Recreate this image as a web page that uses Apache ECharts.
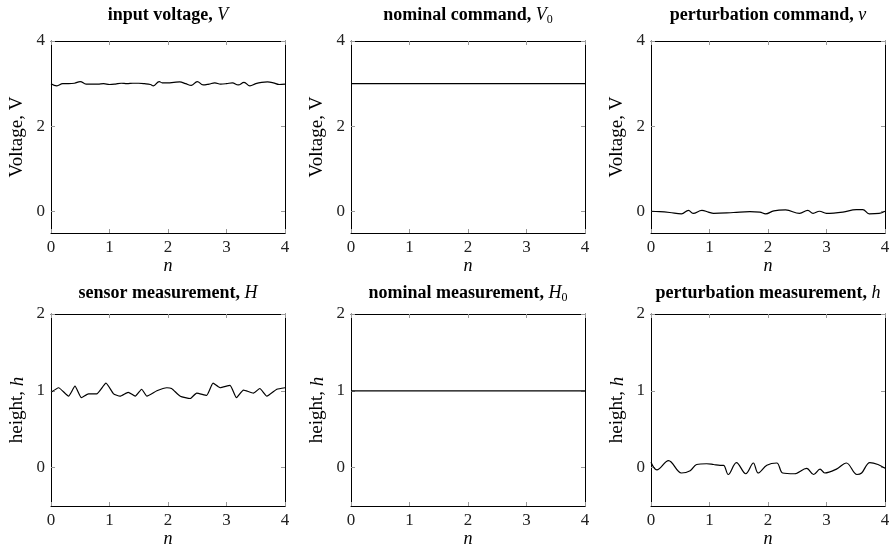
<!DOCTYPE html>
<html lang="en">
<head>
<meta charset="UTF-8">
<title>command / measurement</title>
<script src="https://cdn.jsdelivr.net/npm/echarts@6/dist/echarts.min.js"></script>
<style>
  html, body { margin: 0; padding: 0; background: #fff; }
  #chart { width: 890px; height: 544px; }
</style>
</head>
<body>
<div id="chart"></div>
<script type="text/javascript">
// ---- data ----
// input voltage V
var vin_n   = [0, 0.1, 0.2, 0.3, 0.4, 0.5, 0.6, 0.7, 0.8, 0.9, 1.0, 1.1, 1.2, 1.3, 1.4, 1.5, 1.6, 1.7, 1.75, 1.85, 1.9, 2.0, 2.1, 2.2, 2.3, 2.4, 2.5, 2.6, 2.7, 2.8, 2.9, 3.0, 3.1, 3.2, 3.3, 3.4, 3.5, 3.6, 3.7, 3.8, 3.9, 4.0];
var vin_val = [3.00, 2.95, 3.00, 3.00, 3.01, 3.05, 2.99, 2.99, 2.99, 3.00, 2.98, 2.99, 3.01, 3.00, 3.01, 3.01, 3.00, 2.98, 2.95, 3.05, 3.02, 3.02, 3.03, 3.04, 3.00, 2.96, 3.05, 2.97, 2.99, 3.02, 2.99, 3.00, 3.02, 2.97, 3.03, 2.95, 3.00, 3.03, 3.04, 3.02, 2.98, 2.99];
// nominal command V0
var v0_n   = [0, 4];
var v0_val = [3, 3];
// perturbation command v
var dv_n   = [0, 0.15, 0.32, 0.52, 0.64, 0.72, 0.87, 0.98, 1.07, 1.41, 1.69, 1.86, 1.96, 2.1, 2.3, 2.54, 2.68, 2.77, 2.88, 3.0, 3.28, 3.51, 3.62, 3.73, 3.9, 4.0];
var dv_val = [0.01, 0, -0.02, -0.05, 0.03, -0.04, 0.03, -0.01, -0.04, -0.02, 0, -0.01, -0.05, 0.02, 0.04, -0.04, 0.03, -0.04, 0.01, -0.04, -0.01, 0.05, 0.05, -0.05, -0.04, 0.01];
// sensor measurement H
var hs_n   = [0, 0.13, 0.30, 0.41, 0.52, 0.64, 0.78, 0.94, 1.07, 1.18, 1.32, 1.44, 1.55, 1.64, 1.81, 1.98, 2.06, 2.21, 2.38, 2.49, 2.66, 2.77, 2.89, 3.06, 3.17, 3.29, 3.46, 3.57, 3.69, 3.86, 4.0];
var hs_val = [0.98, 1.04, 0.93, 1.06, 0.91, 0.96, 0.96, 1.10, 0.96, 0.93, 0.98, 0.93, 1.02, 0.93, 1.00, 1.04, 1.03, 0.93, 0.90, 0.97, 0.94, 1.10, 1.04, 1.07, 0.91, 1.01, 0.97, 1.03, 0.93, 1.02, 1.04];
// nominal measurement H0
var h0_n   = [0, 4];
var h0_val = [1, 1];
// perturbation measurement h
var dh_n   = [0, 0.1, 0.3, 0.52, 0.67, 0.78, 0.95, 1.07, 1.18, 1.24, 1.32, 1.46, 1.62, 1.75, 1.83, 1.98, 2.15, 2.25, 2.45, 2.66, 2.78, 2.89, 2.97, 3.17, 3.34, 3.52, 3.6, 3.74, 3.88, 4.0];
var dh_val = [0.07, -0.03, 0.09, -0.07, -0.04, 0.04, 0.05, 0.04, 0.03, 0.03, -0.09, 0.065, -0.08, 0.06, -0.07, 0.03, 0.06, -0.07, -0.08, -0.01, -0.09, -0.02, -0.07, -0.02, 0.06, -0.09, -0.07, 0.065, 0.04, -0.01];

var yTicksTop = [0, 2, 4];
var yTicksBot = [0, 1, 2];

function zip(a, b) {
    var out = [];
    for (var i = 0; i < a.length; i++) out.push([a[i], b[i]]);
    return out;
}

var FONT = "'Liberation Serif', 'DejaVu Serif', serif";
var titleRich = {
    b: { fontFamily: FONT, fontWeight: 'bold', fontSize: 18, lineHeight: 22, color: '#000' },
    i: { fontFamily: FONT, fontStyle: 'italic', fontWeight: 'normal', fontSize: 18, lineHeight: 22, color: '#000' },
    s: { fontFamily: FONT, fontWeight: 'normal', fontSize: 12, lineHeight: 13, verticalAlign: 'bottom', color: '#000' }
};

var panels = [
    { left: 51,  top: 41,  tc: 15,  title: '{b|input voltage, }{i|V}',            yname: 'Voltage, V',    ymax: 4, yt: yTicksTop, data: zip(vin_n, vin_val), smooth: 0.4 },
    { left: 351, top: 41,  tc: 15,  title: '{b|nominal command, }{i|V}{s|0}',      yname: 'Voltage, V',    ymax: 4, yt: yTicksTop, data: zip(v0_n, v0_val), smooth: false },
    { left: 651, top: 41,  tc: 15,  title: '{b|perturbation command, }{i|v}',     yname: 'Voltage, V',    ymax: 4, yt: yTicksTop, data: zip(dv_n, dv_val), smooth: 0.4 },
    { left: 51,  top: 314, tc: 293, title: '{b|sensor measurement, }{i|H}',       yname: 'height, {i|h}', ymax: 2, yt: yTicksBot, data: zip(hs_n, hs_val), smooth: 0.15 },
    { left: 351, top: 314, tc: 293, title: '{b|nominal measurement, }{i|H}{s|0}',  yname: 'height, {i|h}', ymax: 2, yt: yTicksBot, data: zip(h0_n, h0_val), smooth: false },
    { left: 651, top: 314, tc: 293, title: '{b|perturbation measurement, }{i|h}', yname: 'height, {i|h}', ymax: 2, yt: yTicksBot, data: zip(dh_n, dh_val), smooth: 0.35 }
];

var W = 234, H = 192;
var tickStyle = { show: true, inside: true, length: 4, lineStyle: { color: '#999', width: 1 } };
var lineStyle = { show: true, onZero: false, lineStyle: { color: '#000', width: 1 } };
var labelStyle = { fontFamily: FONT, fontSize: 17, color: '#222' };

var grids = [], xAxes = [], yAxes = [], series = [], titles = [];
panels.forEach(function (p, k) {
    grids.push({ left: p.left, top: p.top, width: W, height: H, outerBoundsMode: 'none' });
    titles.push({
        text: p.title,
        left: p.left + W / 2, top: p.tc - 11, textAlign: 'center', padding: 0,
        textStyle: { rich: titleRich }
    });
    // bottom x with labels
    xAxes.push({
        gridIndex: k, type: 'value', position: 'bottom', min: 0, max: 4, interval: 1,
        name: 'n', nameLocation: 'middle', nameGap: 23,
        nameTextStyle: { fontFamily: FONT, fontStyle: 'italic', fontSize: 18, color: '#000' },
        axisLine: lineStyle, axisTick: tickStyle, splitLine: { show: false },
        axisLabel: Object.assign({ margin: 6 }, labelStyle)
    });
    // mirrored top x
    xAxes.push({
        gridIndex: k, type: 'value', position: 'top', min: 0, max: 4, interval: 1,
        axisLine: lineStyle, axisTick: tickStyle, splitLine: { show: false }, axisLabel: { show: false }
    });
    yAxes.push({
        gridIndex: k, type: 'value', position: 'left', min: -0.5, max: p.ymax,
        name: p.yname, nameLocation: 'middle', nameGap: 24,
        nameTextStyle: { fontFamily: FONT, fontSize: 19, color: '#000',
            rich: { i: { fontFamily: FONT, fontStyle: 'italic', fontSize: 19, color: '#000' } } },
        axisLine: lineStyle, splitLine: { show: false },
        axisTick: Object.assign({ customValues: p.yt }, tickStyle),
        axisLabel: Object.assign({ customValues: p.yt, margin: 6 }, labelStyle)
    });
    yAxes.push({
        gridIndex: k, type: 'value', position: 'right', min: -0.5, max: p.ymax,
        axisLine: lineStyle, splitLine: { show: false },
        axisTick: Object.assign({ customValues: p.yt }, tickStyle),
        axisLabel: { show: false }
    });
    series.push({
        type: 'line', xAxisIndex: 2 * k, yAxisIndex: 2 * k, data: p.data,
        showSymbol: false, smooth: p.smooth, silent: true,
        lineStyle: { color: '#000', width: 1.2 }
    });
});

var myChart = echarts.init(document.getElementById('chart'));
myChart.setOption({
    animation: false,
    title: titles,
    grid: grids,
    xAxis: xAxes,
    yAxis: yAxes,
    series: series
});
</script>
</body>
</html>
